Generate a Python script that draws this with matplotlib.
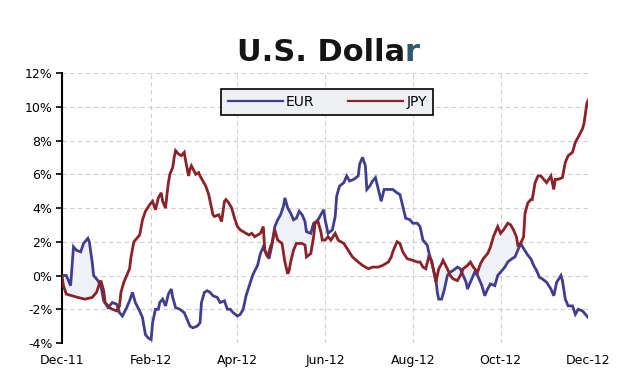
import numpy as np
import pandas as pd
import matplotlib
matplotlib.use("Agg")
import matplotlib.pyplot as plt
import matplotlib.dates as mdates

# Cumulative change vs. the U.S. dollar, days counted from 1 Dec 2011
start = pd.Timestamp("2011-12-01")

eur_day = [0, 3, 6, 8, 10, 13, 15, 17, 18, 19,
           21, 22, 25, 27, 29, 32, 35, 38, 40, 42,
           45, 47, 49, 51, 54, 56, 57, 58, 60, 62,
           63, 65, 67, 68, 70, 72, 74, 76, 77, 79,
           82, 85, 87, 89, 91, 94, 96, 97, 99, 101,
           103, 105, 108, 110, 113, 115, 117, 119, 122, 124,
           126, 128, 131, 133, 136, 138, 140, 142, 144, 146,
           148, 150, 152, 154, 155, 157, 159, 161, 163, 165,
           167, 169, 170, 173, 175, 177, 178, 180, 182, 183,
           185, 188, 190, 191, 193, 196, 198, 200, 203, 206,
           207, 209, 211, 212, 214, 216, 218, 220, 222, 224,
           227, 230, 233, 235, 237, 239, 242, 244, 247, 249,
           251, 254, 255, 257, 260, 261, 262, 264, 266, 268,
           270, 272, 275, 277, 279, 281, 282, 285, 287, 289,
           292, 294, 296, 298, 301, 303, 306, 308, 310, 313,
           315, 317, 319, 321, 324, 326, 328, 330, 332, 334,
           337, 340, 342, 344, 347, 348, 350, 352, 355, 357,
           359, 362, 364, 366]
eur = [0.0, 0.0, -0.6, 1.7, 1.5, 1.4, 1.9, 2.1, 2.2, 2.0,
       0.8, 0.0, -0.3, -0.6, -1.5, -1.9, -1.6, -1.7, -2.2, -2.4,
       -1.9, -1.5, -1.0, -1.6, -2.1, -2.5, -3.0, -3.5, -3.7, -3.8,
       -2.8, -2.0, -2.0, -1.6, -1.4, -1.8, -1.1, -0.8, -1.3, -1.9,
       -2.0, -2.2, -2.6, -3.0, -3.1, -3.0, -2.8, -1.6, -1.0, -0.9,
       -1.0, -1.2, -1.3, -1.6, -1.5, -2.0, -2.0, -2.2, -2.4, -2.3,
       -2.0, -1.2, -0.4, 0.1, 0.6, 1.3, 1.7, 1.3, 1.0, 1.8,
       2.9, 3.3, 3.6, 4.1, 4.6, 4.0, 3.7, 3.3, 3.4, 3.8,
       3.6, 3.2, 2.6, 2.5, 3.1, 3.2, 3.3, 3.6, 3.9, 3.3,
       2.5, 2.7, 3.5, 4.7, 5.3, 5.5, 5.9, 5.6, 5.7, 5.9,
       6.6, 7.0, 6.5, 5.1, 5.3, 5.6, 5.8, 5.1, 4.4, 5.1,
       5.1, 5.1, 4.9, 4.8, 4.1, 3.4, 3.3, 3.1, 3.1, 2.9,
       2.1, 1.8, 1.4, 0.8, -0.2, -1.0, -1.4, -1.4, -0.8, 0.0,
       0.2, 0.3, 0.5, 0.4, 0.0, -0.4, -0.8, -0.2, 0.2, 0.0,
       -0.6, -1.2, -0.8, -0.5, -0.6, 0.0, 0.3, 0.5, 0.8, 1.0,
       1.1, 1.5, 1.9, 1.6, 1.2, 1.0, 0.6, 0.3, -0.1, -0.2,
       -0.4, -0.8, -1.2, -0.4, 0.0, -0.3, -1.4, -1.8, -1.8, -2.3,
       -2.0, -2.1, -2.3, -2.5]

jpy_day = [0, 1, 3, 7, 11, 16, 21, 24, 26, 27,
           29, 30, 33, 35, 38, 40, 41, 43, 45, 47,
           48, 50, 52, 54, 56, 58, 61, 62, 63, 65,
           67, 69, 70, 72, 73, 74, 75, 77, 78, 79,
           81, 83, 85, 86, 88, 89, 90, 93, 95, 96,
           98, 100, 102, 104, 105, 106, 109, 111, 113, 114,
           116, 118, 120, 122, 124, 126, 128, 130, 132, 134,
           136, 138, 140, 141, 143, 145, 146, 148, 150, 153,
           155, 157, 158, 159, 161, 163, 165, 167, 169, 170,
           173, 175, 176, 178, 180, 181, 183, 185, 187, 190,
           192, 196, 199, 202, 206, 209, 213, 216, 220, 223,
           227, 229, 230, 233, 235, 237, 240, 244, 247, 249,
           251, 253, 255, 257, 260, 262, 264, 265, 268, 270,
           272, 275, 277, 279, 282, 284, 286, 289, 291, 293,
           296, 298, 300, 303, 305, 307, 310, 312, 314, 316,
           317, 319, 321, 322, 324, 326, 327, 329, 331, 333,
           335, 337, 340, 342, 343, 345, 348, 350, 352, 355,
           357, 359, 362, 363, 364, 365, 366]
jpy = [0.0, -0.6, -1.1, -1.2, -1.3, -1.4, -1.3, -1.0, -0.5, -0.3,
       -0.9, -1.6, -1.9, -2.0, -2.1, -1.8, -1.0, -0.4, 0.0, 0.4,
       1.1, 2.0, 2.2, 2.4, 3.3, 3.8, 4.2, 4.3, 4.4, 3.9,
       4.6, 4.9, 4.4, 4.0, 4.8, 5.5, 6.0, 6.4, 7.0, 7.4,
       7.2, 7.1, 7.3, 6.8, 5.9, 6.3, 6.5, 6.0, 6.1, 5.9,
       5.6, 5.3, 4.8, 4.0, 3.6, 3.5, 3.6, 3.2, 4.4, 4.5,
       4.3, 4.0, 3.4, 2.9, 2.7, 2.6, 2.5, 2.4, 2.5, 2.3,
       2.4, 2.5, 2.9, 1.5, 1.1, 1.7, 1.9, 2.7, 2.1, 1.9,
       0.8, 0.1, 0.3, 0.8, 1.5, 1.9, 1.9, 1.9, 1.8, 1.1,
       1.3, 2.3, 3.1, 3.2, 2.6, 2.1, 2.1, 2.3, 2.1, 2.5,
       2.1, 1.9, 1.5, 1.1, 0.8, 0.6, 0.4, 0.5, 0.5, 0.6,
       0.8, 1.1, 1.4, 2.0, 1.9, 1.4, 1.0, 0.9, 0.8, 0.8,
       0.5, 0.4, 1.1, 0.9, -0.4, 0.4, 0.7, 0.9, 0.4, 0.0,
       -0.2, -0.3, 0.0, 0.4, 0.6, 0.8, 0.5, 0.2, 0.7, 1.0,
       1.3, 1.7, 2.3, 2.9, 2.5, 2.7, 3.1, 3.0, 2.7, 2.3,
       1.8, 1.9, 2.3, 3.7, 4.3, 4.5, 4.5, 5.5, 5.9, 5.9,
       5.7, 5.5, 5.9, 5.1, 5.7, 5.7, 5.8, 6.7, 7.1, 7.3,
       7.9, 8.2, 8.7, 9.0, 9.6, 10.2, 10.4]

# Periods where the gap between the two series is shaded (day ranges)
shade_spans = [(0, 27), (144, 181), (256, 321)]

tick_dates = ["2011-12-01", "2012-02-01", "2012-04-01", "2012-06-01",
              "2012-08-01", "2012-10-01", "2012-12-01"]
y_ticks = [-4, -2, 0, 2, 4, 6, 8, 10, 12]

EUR_COLOR = "#3f3e90"
JPY_COLOR = "#8c2127"

to_dates = lambda d: start + pd.to_timedelta(np.asarray(d), unit="D")
eur_x = to_dates(eur_day)
jpy_x = to_dates(jpy_day)

fig = plt.figure(figsize=(6.23, 3.75), dpi=100)
ax = fig.add_axes([0.0995, 0.0853, 0.8448, 0.72])

# shaded gap between the two lines
grid_day = np.arange(0, 367)
eur_g = np.interp(grid_day, eur_day, eur)
jpy_g = np.interp(grid_day, jpy_day, jpy)
mask = np.zeros_like(grid_day, dtype=bool)
for a, b in shade_spans:
    mask |= (grid_day >= a) & (grid_day <= b)
ax.fill_between(to_dates(grid_day), eur_g, jpy_g, where=mask,
                color="#f0f1f6", linewidth=0, zorder=1)

ax.plot(eur_x, eur, color=EUR_COLOR, lw=2.0, label="EUR", zorder=3,
        solid_joinstyle="miter")
ax.plot(jpy_x, jpy, color=JPY_COLOR, lw=2.0, label="JPY", zorder=3,
        solid_joinstyle="miter")

ax.set_ylim(-4, 12)
ax.set_xlim(start, pd.Timestamp(tick_dates[-1]))
ax.set_yticks(y_ticks)
ax.set_yticklabels([f"{v}%" for v in y_ticks])
ax.set_xticks(pd.to_datetime(tick_dates))
ax.xaxis.set_major_formatter(mdates.DateFormatter("%b-%y"))

for s in ("top", "right", "bottom"):
    ax.spines[s].set_visible(False)
ax.spines["left"].set_linewidth(1.5)
ax.spines["left"].set_color("black")

ax.tick_params(axis="y", direction="out", length=4, width=1.2, pad=3,
               labelsize=9, colors="black")
ax.tick_params(axis="x", length=0, pad=8, labelsize=9, colors="black")
ax.grid(True, color="#cfcfcf", linestyle=(0, (4, 3)), linewidth=0.8, zorder=0)
ax.set_axisbelow(True)

leg = ax.legend(loc="center", bbox_to_anchor=(0.504, 0.893), ncol=2,
                frameon=True, fancybox=False, fontsize=10, handlelength=4.0,
                handletextpad=0.2, columnspacing=2.4, borderpad=0.45,
                borderaxespad=0, framealpha=1)
leg.get_frame().set_facecolor("#eff0f4")
leg.get_frame().set_edgecolor("black")
leg.get_frame().set_linewidth(1.2)
for line in leg.get_lines():
    line.set_linewidth(1.6)

# title, last letter in slate blue
fig.canvas.draw()
renderer = fig.canvas.get_renderer()
t1 = fig.text(0.380, 0.838, "U.S. Dolla", fontsize=22, fontweight="bold",
              family="DejaVu Sans", color="#141414", ha="left", va="baseline")
bb = t1.get_window_extent(renderer)
fig.text(bb.x1 / fig.bbox.width, 0.838, "r", fontsize=22, fontweight="bold",
         family="DejaVu Sans", color="#2e566c", ha="left", va="baseline")

fig.savefig("out.png", dpi=100, facecolor="white")
